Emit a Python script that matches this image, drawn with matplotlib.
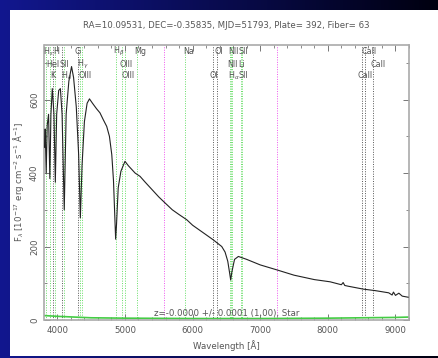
import matplotlib
matplotlib.use("Agg")
import matplotlib.pyplot as plt
import matplotlib.transforms as mtransforms
from matplotlib.patches import Rectangle
from matplotlib.ticker import MultipleLocator
import numpy as np

plt.rcParams['mathtext.fontset'] = 'dejavusans'

# spectrum
wave = [3810, 3820, 3835, 3850, 3870, 3889, 3905, 3925, 3950, 3970, 3990, 4020,
        4045, 4070, 4102, 4130, 4170, 4210, 4240, 4280, 4315, 4340, 4365, 4400,
        4440, 4475, 4520, 4580, 4630, 4680, 4730, 4770, 4805, 4830, 4850, 4862,
        4875, 4900, 4940, 5000, 5050, 5100, 5150, 5223, 5300, 5400, 5500, 5568,
        5700, 5800, 5913, 6000, 6100, 6200, 6307, 6431, 6480, 6520, 6550, 6563,
        6580, 6620, 6677, 6800, 7000, 7254, 7500, 7800, 8033, 8200, 8226, 8250,
        8300, 8526, 8700, 8900, 8950, 8970, 9000, 9050, 9100, 9187]
flux = [470, 520, 400, 530, 560, 385, 560, 630, 560, 375, 560, 625,
        630, 560, 300, 560, 650, 690, 660, 580, 450, 278, 420, 540,
        590, 602, 590, 575, 564, 545, 527, 500, 450, 380, 280, 220,
        260, 360, 405, 432, 420, 410, 400, 391, 375, 355, 335, 323,
        300, 287, 273, 258, 245, 232, 218, 200, 185, 160, 125, 109,
        130, 165, 173, 165, 150, 136, 122, 110, 104, 96, 102, 94,
        92, 84, 80, 74, 68, 76, 67, 73, 65, 62]

# error spectrum (green, near zero)
err_wave = [3810, 4000, 4500, 5000, 6000, 7000, 8000, 9000, 9200]
err_flux = [12, 10, 6, 5, 4, 4, 5, 7, 8]

# marked lines
green_lines = [3835, 3889, 3970, 4102, 4340, 4363, 4861, 4959, 5007, 5175,
               5894, 6548, 6563, 6583, 6716, 6731]
black_lines = [3934, 4072, 4304, 6300, 6364, 8498, 8542, 8662]
sky_lines = [5577, 7250]

# line labels: text, start wavelength, row
labels = [("H$_\\epsilon$", 3790, 0), ("H", 3940, 0), ("G", 4261, 0),
          ("H$_\\beta$", 4823, 0), ("Mg", 5134, 0), ("Na", 5859, 0),
          ("OI", 6317, 0), ("NII", 6532, 0), ("SII", 6680, 0), ("CaII", 8502, 0),
          ("HeI", 3843, 1), ("SII", 4025, 1), ("H$_\\gamma$", 4291, 1),
          ("OIII", 4912, 1), ("NII", 6505, 1), ("Li", 6670, 1), ("CaII", 8625, 1),
          ("K", 3891, 2), ("H$_\\delta$", 4050, 2), ("OIII", 4306, 2),
          ("OIII", 4956, 2), ("OI", 6243, 2), ("H$_\\alpha$", 6520, 2),
          ("SII", 6680, 2), ("CaII", 8444, 2)]
row_y = [0.973, 0.929, 0.886]

title = "RA=10.09531, DEC=-0.35835, MJD=51793, Plate= 392, Fiber= 63"
ztext = "z=-0.0000 +/- 0.0001 (1.00), Star"

fig = plt.figure(figsize=(4.39, 3.58), dpi=100)

# slide background: blue to black gradient
bg = fig.add_axes([0, 0, 1, 1], zorder=-10)
grad = np.linspace(0, 1, 256)
c0 = np.array([0.07, 0.09, 0.56])
c1 = np.array([0.0, 0.0, 0.06])
img = c0[None, None, :] * (1 - grad[None, :, None]) + c1[None, None, :] * grad[None, :, None]
img = np.repeat(img, 2, axis=0)
bg.imshow(img, aspect='auto', extent=[0, 1, 0, 1])
bg.add_patch(Rectangle((10 / 439, 2 / 358), 1 - 10 / 439, 346 / 358,
                       facecolor='white', edgecolor='none'))
bg.set_xlim(0, 1)
bg.set_ylim(0, 1)
bg.axis('off')

ax = fig.add_axes([44.5 / 439, 1 - 320 / 358, (409 - 44.5) / 439, (320 - 44.5) / 358])
ax.set_xlim(3810, 9200)
ax.set_ylim(0, 750)

for w in green_lines:
    ax.axvline(w, color='#66dd66', lw=0.7, ls=(0, (1, 1.5)), zorder=1)
for w in black_lines:
    ax.axvline(w, color='#555555', lw=0.7, ls=(0, (1, 1.5)), zorder=1)
for w in sky_lines:
    ax.axvline(w, color='#ee55ee', lw=0.7, ls=(0, (1, 1.5)), zorder=1)

ax.plot(err_wave, err_flux, color='#44cc44', lw=1.2, zorder=2)
ax.plot(wave, flux, color='#222222', lw=0.8, zorder=3)

fs = 6.2
tcol = '#555555'
trans = mtransforms.blended_transform_factory(ax.transData, ax.transAxes)
for txt, w, r in labels:
    ax.text(w, row_y[r], txt, transform=trans, fontsize=5.8, color=tcol,
            ha='left', va='center', clip_on=False)

ax.text(0.5, 0.022, ztext, transform=ax.transAxes, fontsize=fs,
        color=tcol, ha='center', va='center')

ax.xaxis.set_major_locator(MultipleLocator(1000))
ax.xaxis.set_minor_locator(MultipleLocator(200))
ax.yaxis.set_major_locator(MultipleLocator(200))
ax.yaxis.set_minor_locator(MultipleLocator(100))
ax.tick_params(which='both', direction='in', top=True, right=True,
               color='#777777', labelsize=fs, labelcolor=tcol)
ax.tick_params(which='major', length=4, width=0.7)
ax.tick_params(which='minor', length=2, width=0.6)
ax.tick_params(axis='x', pad=4)
ax.tick_params(axis='y', pad=4)
for lab in ax.get_yticklabels():
    lab.set_rotation(90)
    lab.set_va('center')
for s in ax.spines.values():
    s.set_color('#aaaaaa')
    s.set_linewidth(1.2)

ax.set_xlabel("Wavelength [Å]", fontsize=fs, color=tcol, labelpad=4)
ax.set_ylabel("F$_\\lambda$ [10$^{-17}$ erg cm$^{-2}$ s$^{-1}$ Å$^{-1}$]",
              fontsize=fs, color=tcol, labelpad=3)
fig.text(226.8 / 439, 1 - 25 / 358, title, fontsize=fs, color=tcol,
         ha='center', va='center')

fig.savefig("out.png", dpi=100)
